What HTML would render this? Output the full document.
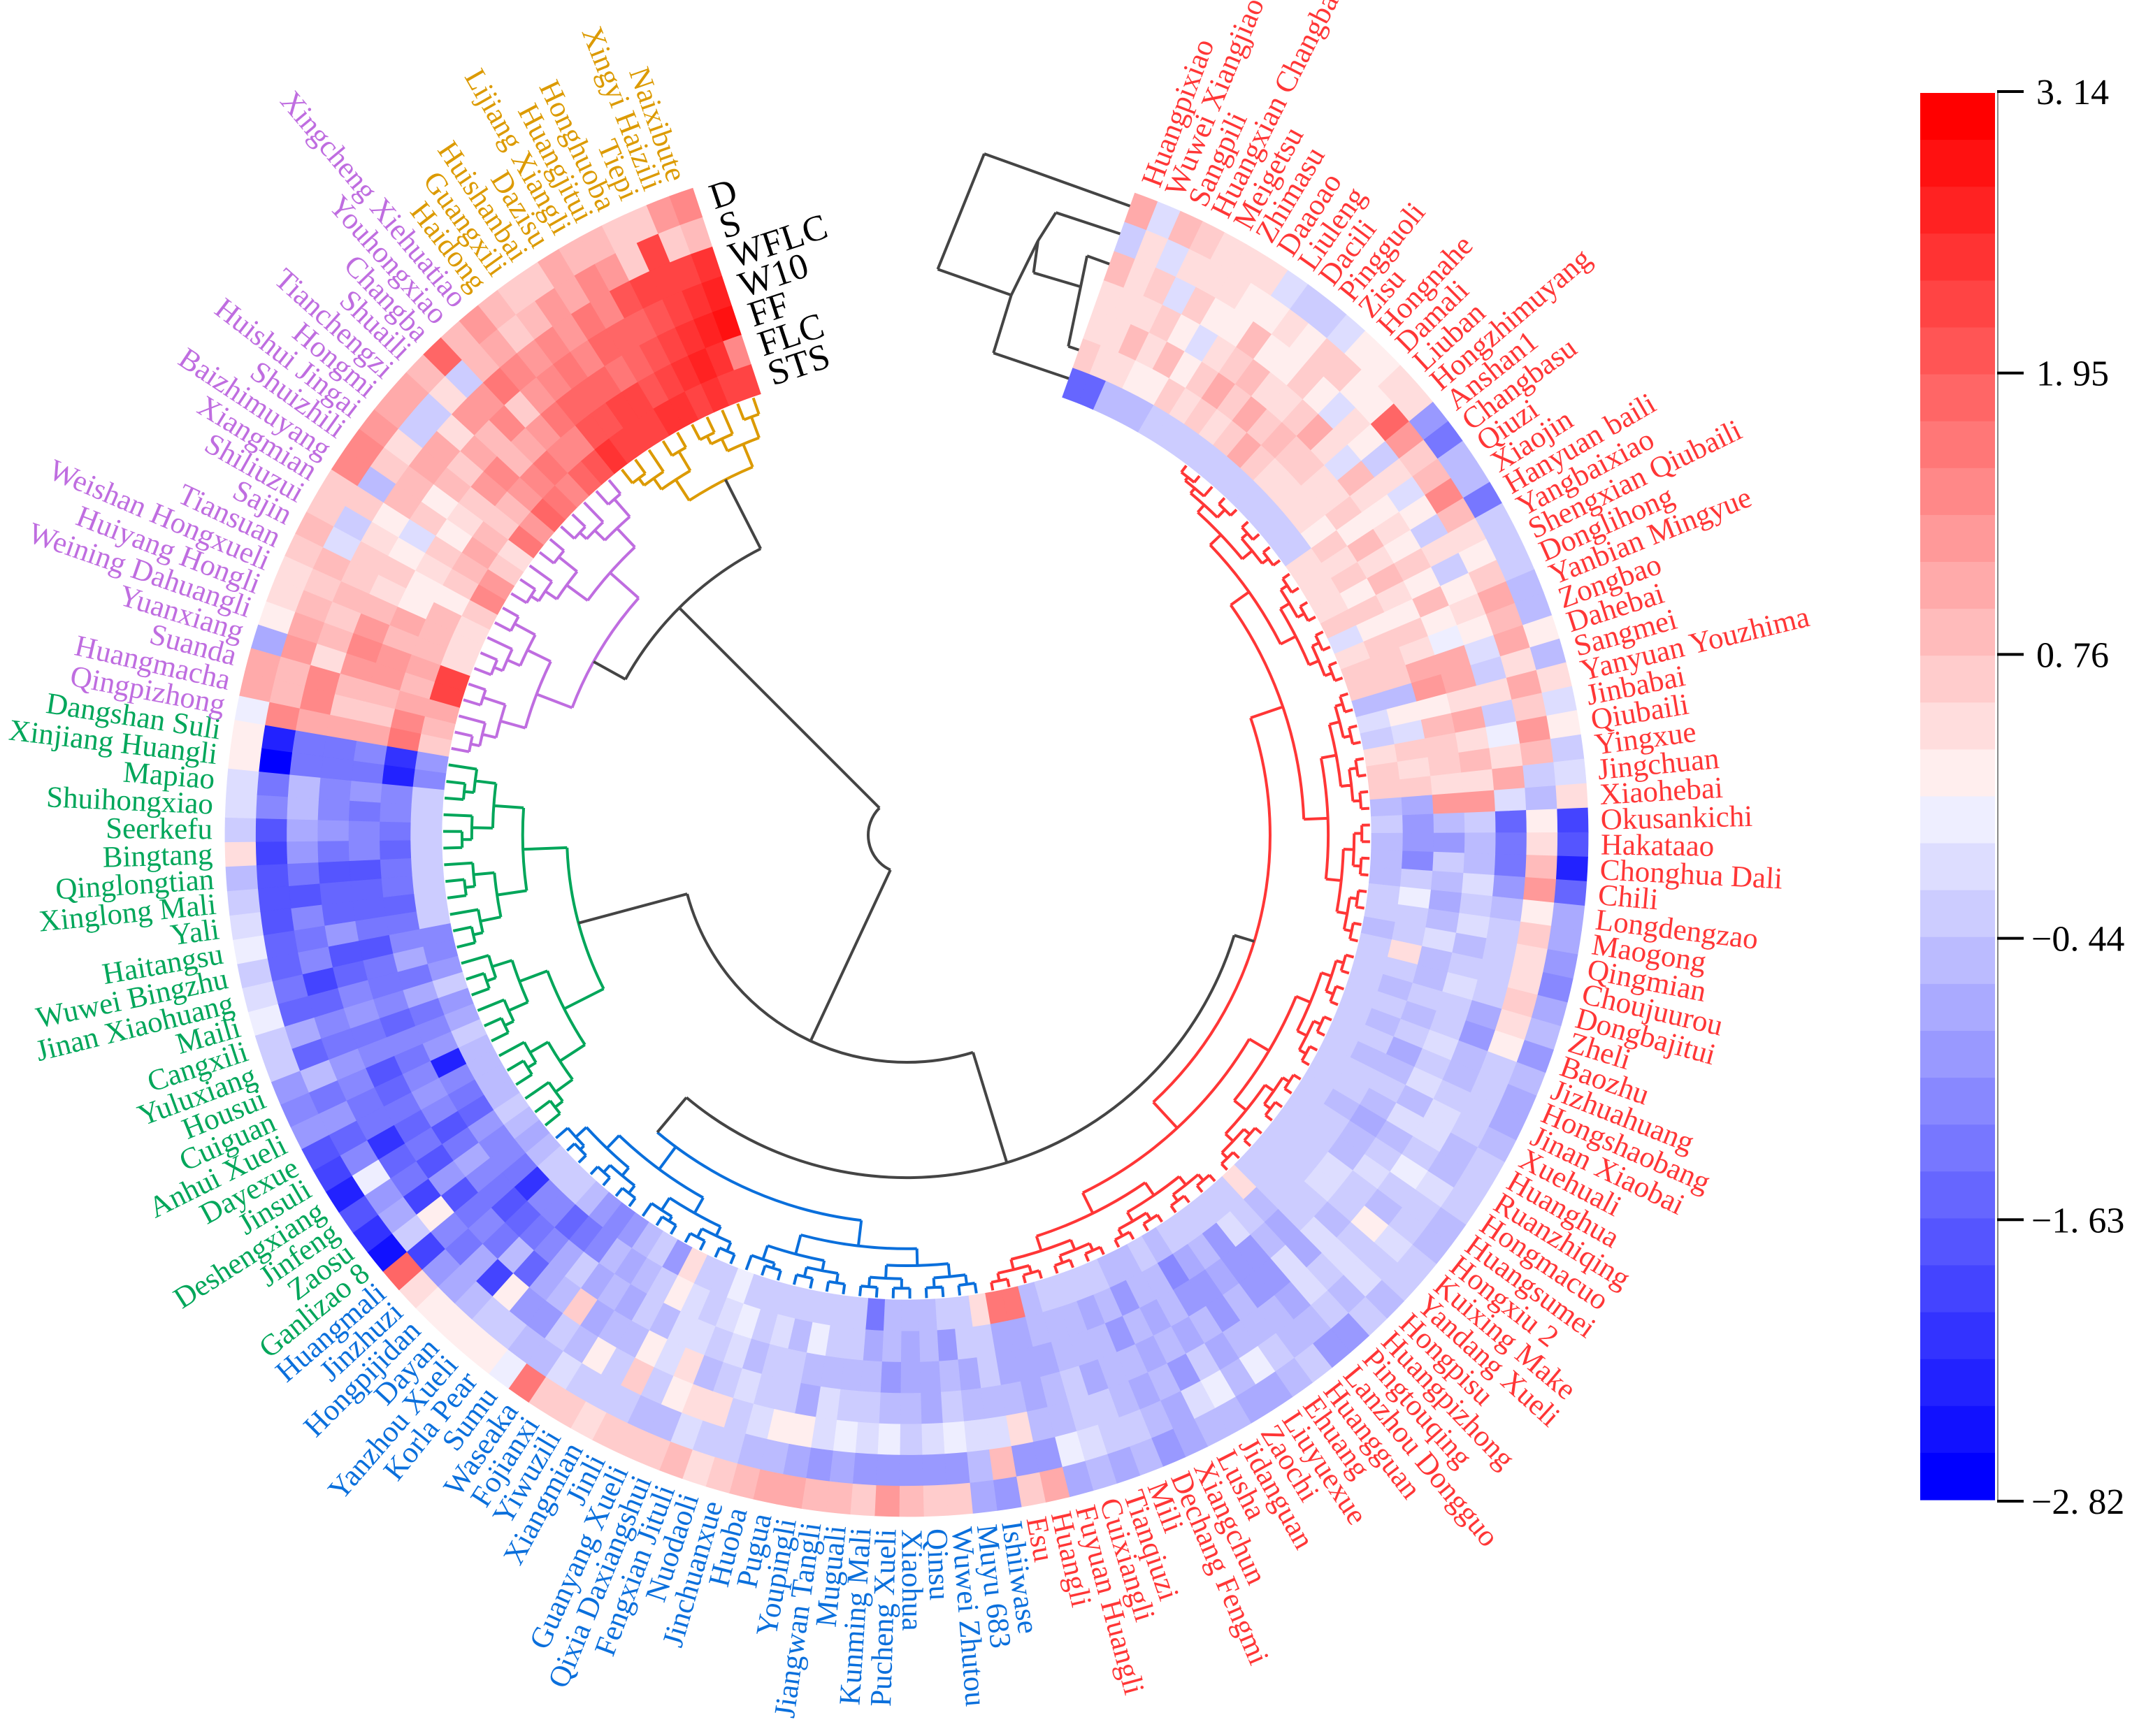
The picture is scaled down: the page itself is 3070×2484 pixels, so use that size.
<!DOCTYPE html>
<html><head><meta charset="utf-8"><style>
html,body{margin:0;padding:0;background:#fff;}
svg{display:block;}
</style></head><body>
<svg id="chart" xmlns="http://www.w3.org/2000/svg" width="3070" height="2484" viewBox="0 0 3070 2484">
<rect width="3070" height="2484" fill="#fff"/>
<g id="dendro"></g>
<g id="heat"></g>
<g id="labels"></g>
<g id="ringlabels"></g>
<g id="cbar"></g>
</svg>
<script>
const ringNames = ["D","S","WFLC","W10","FF","FLC","STS"];
const leafNames = ["Huangpixiao","Wuwei Xiangjiao","Sangpili","Huangxian Changba","Meigetsu","Zhimasu","Daaoao","Liuleng","Dacili","Pingguoli","Zisu","Hongnahe","Damali","Liuban","Hongzhimuyang","Anshan1","Changbasu","Qiuzi","Xiaojin","Hanyuan baili","Yangbaixiao","Shengxian Qiubaili","Donglihong","Yanbian Mingyue","Zongbao","Dahebai","Sangmei","Yanyuan Youzhima","Jinbabai","Qiubaili","Yingxue","Jingchuan","Xiaohebai",
"Okusankichi","Hakataao","Chonghua Dali","Chili","Longdengzao","Maogong","Qingmian","Choujuurou","Dongbajitui","Zheli","Baozhu","Jizhuahuang","Hongshaobang","Jinan Xiaobai","Xuehuali","Huanghua","Ruanzhiqing","Hongmacuo","Huangsumei","Hongxiu 2","Kuixing Make","Yandang Xueli","Hongpisu","Huangpizhong","Pingtouqing","Lanzhou Dongguo","Huangguan","Ehuang","Liuyuexue","Zaochi","Jidanguan","Lusha","Xiangchun","Dechang Fengmi","Mili","Tianqiuzi","Cuixiangli","Fuyuan Huangli","Huangli","Esu",
"Ishiiwase","Muyu 683","Wuwei Zhutou","Qinsu","Xiaohua","Pucheng Xueli","Kunming Mali","Muguali","Jiangwan Tangli","Youpingli","Pugua","Huoba","Jinchuanxue","Nuodaoli","Fengxian Jituli","Qixia Daxiangshui","Guanyang Xueli","Jinli","Xiangmian","Yiwuzili","Fojianxi","Waseaka","Sumu","Korla Pear","Yanzhou Xueli","Dayan","Hongpijidan","Jinzhuzi","Huangmali",
"Ganlizao 8","Zaosu","Jinfeng","Deshengxiang","Jinsuli","Dayexue","Anhui Xueli","Cuiguan","Housui","Yuluxiang","Cangxili","Maili","Jinan Xiaohuang","Wuwei Bingzhu","Haitangsu","Yali","Xinglong Mali","Qinglongtian","Bingtang","Seerkefu","Shuihongxiao","Mapiao","Xinjiang Huangli","Dangshan Suli",
"Qingpizhong","Huangmacha","Suanda","Yuanxiang","Weining Dahuangli","Huiyang Hongli","Weishan Hongxueli","Tiansuan","Sajin","Shiliuzui","Xiangmian","Baizhimuyang","Shuizhili","Huishui Jingai","Hongmi","Tianchengzi","Shuaili","Changba","Youhongxiao","Xingcheng Xiehuatiao",
"Haidong","Guangxili","Huishanbai","Dazisu","Lijiang Xiangli","Huangjitui","Honghuoba","Tiepi","Xingyi Haizili","Naixibute"];
const valD = [1.0,-0.1,0.9,0.6,0.5,0.5,0.4,-0.1,-0.3,-0.3,-0.2,0.2,0.3,0.5,0.5,-0.9,-1.3,-0.6,-0.6,-1.3,-0.4,-0.4,-0.3,-0.5,-0.6,0.3,-0.6,0.5,-0.1,0.2,-0.4,-0.1,0.4,
-2.0,-1.7,-2.4,-1.6,-0.8,-0.7,-0.9,-1.1,-0.7,-0.6,-0.9,-0.5,-0.7,-0.8,-0.5,-0.4,-0.3,-0.4,-0.5,-0.6,-0.3,-0.4,-0.6,-0.4,-0.9,-1.0,-0.3,-0.5,-0.8,-0.8,-0.6,-0.5,-0.7,-0.9,-0.6,-0.8,-0.6,-0.8,1.0,0.6,
-0.9,-0.8,0.7,0.7,0.9,1.2,0.7,0.8,0.9,1.0,1.1,0.8,0.6,0.4,0.8,0.6,0.6,0.6,0.4,0.6,0.7,1.6,0.1,0.2,0.3,0.2,0.3,0.5,1.9,
-2.6,-2.2,-1.8,-2.3,-2.0,-1.7,-1.0,-1.1,-1.0,-0.3,-0.4,0.1,-0.2,-0.3,0.0,-0.2,-0.4,-0.5,0.4,-0.3,-0.2,-0.1,0.3,0.3,
0.0,1.1,1.0,-0.8,0.2,0.5,0.4,0.6,0.9,0.7,0.6,1.5,1.4,1.2,1.1,1.0,0.9,1.9,0.8,1.2,
0.9,0.7,0.6,1.0,0.8,0.8,0.6,0.6,1.3,1.4];
const valS = [-0.3,0.5,-0.1,0.5,0.5,0.5,0.3,0.3,0.4,0.3,0.6,0.6,0.2,0.3,1.8,1.3,0.7,0.9,1.5,0.9,0.5,0.3,0.6,1.0,0.9,1.1,0.5,1.1,0.6,1.3,0.9,-0.3,-0.6,
0.2,0.5,0.8,1.2,0.2,0.6,0.5,0.5,0.6,0.4,0.2,-0.3,-0.4,-0.4,-0.3,-0.6,-0.5,-0.2,-0.3,-0.4,-0.1,-0.3,-0.2,-0.5,-0.3,-0.5,-0.6,-0.4,0.0,-0.6,0.1,-0.2,-0.7,-0.5,-0.3,-0.4,-0.2,0.0,-1.0,-0.9,
0.9,-0.6,-0.9,-1.0,-1.0,-1.0,-0.9,-0.8,-0.9,-0.7,-0.6,-0.5,-0.3,-0.4,-0.2,-0.6,-0.5,-0.4,-0.3,-0.4,-0.2,-0.6,-0.5,-0.3,-0.4,-0.6,-0.8,-0.9,-2.0,
-0.3,-0.8,-1.0,0.0,-1.1,-1.6,-0.9,-1.3,-0.6,-1.5,-0.8,-1.6,-1.3,-1.5,-1.6,-1.7,-1.8,-1.7,-1.9,-1.8,-1.2,-1.3,-2.8,-2.4,
1.5,0.9,0.9,1.3,1.0,0.8,0.7,0.9,-0.2,-0.3,0.7,-0.6,0.6,0.4,-0.4,-0.3,0.5,-0.3,0.8,1.0,
0.7,0.9,1.2,1.1,1.4,1.2,0.6,2.2,0.6,0.8];
const valWFLC = [0.9,0.5,0.7,-0.1,0.6,0.3,0.2,0.8,0.2,0.3,0.6,0.3,-0.1,0.4,0.3,-0.3,0.4,-0.1,0.3,-0.3,0.5,-0.4,0.2,0.4,0.3,-0.2,-0.4,0.4,-0.3,0.0,0.5,1.0,-0.2,
-1.6,-1.4,-1.3,-0.9,-0.6,-0.4,-0.4,-0.3,-0.4,-0.8,-0.9,-0.6,-0.5,-0.4,-0.2,-0.1,-0.3,0.1,-0.3,-0.5,0.2,-0.3,-0.2,-0.4,-0.1,-0.7,-0.5,-0.6,-0.6,-0.8,-0.4,-0.9,-0.5,-0.8,-0.6,-0.4,-0.3,-0.5,-0.5,0.5,
-0.2,-0.2,0.1,-0.1,-0.3,0.1,-0.2,0.0,-0.1,0.2,0.3,-0.2,-0.4,0.4,0.5,0.3,-0.3,0.6,-0.4,0.3,-0.6,-0.4,-0.9,-1.0,0.2,-2.0,-0.8,-1.3,-1.1,
0.3,-2.0,-1.4,-1.5,-2.2,-1.3,-1.3,-1.1,-1.0,-1.3,-1.2,-1.6,-1.9,-1.1,-1.3,-1.1,-1.7,-1.4,-0.9,-0.7,-0.6,-0.6,-1.4,-1.3,
1.0,1.4,1.5,0.5,0.8,0.6,0.8,0.6,0.6,0.5,0.2,0.8,0.9,1.1,1.0,0.5,1.2,1.3,1.6,1.5,
1.2,1.4,1.3,1.6,1.5,2.0,2.2,2.3,2.3,2.4];
const valW10 = [0.5,0.4,0.5,0.6,0.3,-0.1,0.5,0.7,0.9,0.5,0.4,0.6,1.1,0.4,-0.1,0.8,0.5,0.2,0.5,0.3,0.6,0.2,0.9,0.2,0.0,1.0,1.0,0.4,1.0,0.5,0.9,0.5,1.2,
-0.3,-0.6,-0.5,-0.1,-0.4,-0.2,-0.6,-0.3,-0.1,-0.3,-0.3,-0.2,-0.3,-0.1,-0.5,-0.2,-0.6,-0.4,-0.1,-0.3,-0.4,-0.5,-0.2,-0.7,-0.2,-0.9,-1.0,-0.6,-0.9,-0.6,-0.8,-0.5,-0.8,-0.6,-0.5,-0.7,-0.4,-0.6,-0.7,-0.5,
-0.5,-0.6,-0.3,-0.8,-0.5,-0.6,-0.4,-0.4,-0.2,-0.8,-0.4,-0.4,-0.1,-0.3,-0.5,0.4,-0.2,0.2,-0.6,-0.5,-0.7,0.7,-0.6,-0.7,-1.6,-0.6,-1.3,-1.1,-1.3,
-1.8,-0.9,-1.8,-1.4,-1.5,-1.4,-1.6,-1.7,-1.1,-1.4,-1.0,-1.2,-1.6,-1.8,-1.0,-1.5,-1.6,-1.8,-1.3,-1.0,-1.1,-1.1,-1.4,-1.4,
1.0,0.6,0.8,1.2,1.5,1.3,0.9,0.4,0.7,0.2,-0.1,0.7,0.2,0.9,0.7,1.0,0.8,1.4,0.6,1.2,
1.5,1.6,1.5,1.8,1.9,1.8,2.1,2.3,2.4,2.6];
const valFF = [0.5,0.5,0.9,0.5,0.9,0.3,0.6,1.0,0.6,1.0,0.7,0.9,0.6,0.7,0.5,0.5,0.6,0.3,0.8,0.5,0.9,0.4,0.3,0.7,0.5,1.0,1.3,0.2,0.8,0.6,0.7,0.5,1.2,
-0.6,-0.9,-0.3,-0.5,-0.7,-0.5,-0.2,-0.5,-0.6,-0.4,-0.6,-0.3,-0.7,-0.6,-0.4,-0.5,-0.8,-0.6,-0.5,-0.2,-0.2,-0.4,-0.3,-0.7,-0.6,-0.9,-1.0,-0.7,-1.0,-1.0,-0.6,-0.8,-0.6,-0.9,-0.6,-0.5,-0.6,-0.8,-0.7,-0.7,
-0.4,-0.7,-0.5,-0.7,-0.7,-0.9,-0.6,-0.5,-0.6,-0.6,-0.3,-0.4,-0.6,-0.2,-0.4,-0.1,-0.2,-0.5,-0.4,-0.7,-0.6,-0.8,-0.3,-0.8,-1.2,-1.4,-1.6,-1.7,-1.3,
-1.1,-0.7,-1.3,-1.7,-1.2,-1.0,-1.2,-1.4,-1.2,-1.6,-1.1,-1.3,-1.3,-1.8,-1.4,-1.5,-1.6,-1.7,-1.2,-1.2,-1.3,-0.9,-1.4,-1.1,
1.1,0.7,0.9,1.2,1.3,0.9,1.0,0.2,0.3,0.4,0.6,0.3,0.5,0.7,1.2,1.5,0.9,1.0,1.2,1.7,
1.9,1.9,1.8,1.7,1.9,2.1,2.3,2.5,2.6,2.9];
const valFLC = [0.6,0.5,0.5,0.3,0.2,0.6,0.5,0.6,0.5,0.6,1.1,0.6,0.5,0.5,0.4,0.4,0.3,0.6,0.5,0.6,0.3,0.7,0.2,0.6,0.6,0.6,-0.6,0.3,-0.2,0.6,0.4,0.6,-0.8,
-0.9,-1.0,-1.1,-0.3,0.0,-0.4,-0.3,0.4,-0.3,-0.5,-0.4,-0.5,-0.4,-0.6,-0.3,-0.4,-0.5,-0.3,-0.4,-0.4,-0.4,-0.3,-0.3,-0.5,-0.4,-0.2,-0.9,-0.6,-0.8,-1.1,-0.5,-0.5,-0.9,-0.5,-0.7,-0.6,-0.5,-0.6,-0.7,-0.7,
-0.4,-0.4,-0.9,-0.6,-0.7,-0.6,-0.7,-0.3,-0.4,0.0,-0.5,-0.2,-0.4,0.0,-0.2,-0.4,-0.1,0.3,-0.3,-0.5,-0.8,-0.6,-1.2,-1.4,-1.6,-1.2,-1.2,-2.1,-1.3,
-1.2,-1.1,-1.0,-1.6,-1.3,-1.1,-2.3,-0.9,-1.2,-1.4,-0.7,-1.4,-0.8,-1.2,-1.3,-1.6,-1.3,-1.4,-1.6,-1.3,-1.2,-1.2,-2.3,-2.2,
1.6,1.5,1.0,0.9,1.1,0.9,0.8,0.8,0.2,0.6,0.9,1.0,0.8,0.6,0.8,1.3,1.5,1.7,1.4,1.4,
2.0,2.1,2.2,2.3,2.0,2.2,2.4,2.6,2.4,1.5];
const valSTS = [-1.5,-1.5,-0.5,-0.5,-0.5,-0.4,-0.4,-0.4,-0.4,-0.4,-0.4,-0.4,-0.4,-0.3,-0.4,-0.3,-0.3,0.4,0.5,0.4,0.5,0.6,-0.1,0.5,0.6,0.6,-0.5,-0.2,-0.4,0.5,0.6,0.6,-0.5,
-0.4,-0.5,-0.5,-0.5,-0.4,-0.4,-0.5,-0.4,-0.4,-0.4,-0.4,-0.3,-0.4,-0.4,-0.4,-0.4,-0.3,-0.3,-0.3,-0.3,-0.3,-0.3,-0.3,0.4,-0.4,-0.4,-0.4,-0.4,-0.4,-0.5,-0.3,-0.6,-0.5,-0.4,-0.4,-0.4,-0.4,-0.5,1.6,1.6,
0.5,-0.4,-0.4,-0.5,-0.5,-0.5,-1.3,-0.4,-0.4,-0.3,-0.4,-0.4,-0.3,-0.3,0.0,-0.4,-0.4,0.5,-1.0,-0.4,-0.6,-0.9,-1.2,-0.9,-0.5,-0.4,-0.4,-0.4,-0.5,
-0.7,-0.5,-0.4,-0.5,-0.5,-0.6,-0.5,-0.4,-0.8,-0.9,-0.4,-0.9,-1.2,-1.2,-0.3,-0.4,-0.4,-0.4,-0.4,-0.4,-0.4,-0.4,-1.2,-0.9,
0.6,0.8,1.0,2.3,2.2,0.5,0.5,0.4,0.6,1.5,1.3,0.6,0.5,1.6,1.2,1.8,1.6,1.5,1.9,2.1,
2.4,2.3,2.2,2.3,2.4,2.5,2.2,2.4,2.3,2.2];
const cbTicks = [3.14,1.95,0.76,-0.44,-1.63,-2.82];
const cbTickLabels = ["3. 14","1. 95","0. 76","\u22120. 44","\u22121. 63","\u22122. 82"];
const vmin = -2.82, vmax = 3.14;

const NS = "http://www.w3.org/2000/svg";
const cx = 1297, cy = 1195, Rin = 665, Rout = 975, Rleaf = 663;
const A0 = 20.6, dA = 2.065;
const ringVals = [valD, valS, valWFLC, valW10, valFF, valFLC, valSTS];
const ringW = (Rout - Rin) / ringNames.length;
function ang(i){ return A0 + i * dA; }
function P(a, r){ const t = a * Math.PI / 180; return [cx + r * Math.sin(t), cy - r * Math.cos(t)]; }
function f(v){ return v.toFixed(1); }
function levelColor(q){
  if (q >= 15) { const c = (29 - q) * 17; return "rgb(255," + c + "," + c + ")"; }
  const c = q * 17; return "rgb(" + c + "," + c + ",255)";
}
function color(v){
  let q = Math.floor((v - vmin) / (vmax - vmin) * 30);
  q = Math.max(0, Math.min(29, q));
  return levelColor(q);
}
function mk(tag, parent){ const e = document.createElementNS(NS, tag); parent.appendChild(e); return e; }

/* ---------- dendrogram ---------- */
const dendro = document.getElementById("dendro");
function arcD(a1, a2, r){
  if (a2 < a1) { const t = a1; a1 = a2; a2 = t; }
  const p1 = P(a1, r), p2 = P(a2, r);
  return "M" + f(p1[0]) + "," + f(p1[1]) + "A" + r + "," + r + " 0 " + (a2 - a1 > 180 ? 1 : 0) + " 1 " + f(p2[0]) + "," + f(p2[1]);
}
function radD(a, r1, r2){
  const p1 = P(a, r1), p2 = P(a, r2);
  return "M" + f(p1[0]) + "," + f(p1[1]) + "L" + f(p2[0]) + "," + f(p2[1]);
}
function build(lo, hi, N, Rroot, acc, link){
  const n = hi - lo + 1;
  if (n === 1) return { a: ang(lo), r: Rleaf };
  const mid = Math.floor((lo + hi) / 2);
  const L = build(lo, mid, N, Rroot, acc), R = build(mid + 1, hi, N, Rroot, acc);
  const r = Rleaf - (Rleaf - Rroot) * Math.pow((n - 1) / (N - 1), 0.6);
  acc.d += radD(L.a, r, L.r) + radD(R.a, r, R.r);
  let a1 = L.a, a2 = R.a;
  if (link !== undefined) { a1 = Math.min(a1, link); a2 = Math.max(a2, link); }
  acc.d += arcD(a1, a2, r);
  return { a: (L.a + R.a) / 2, r: r };
}
const clusters = [
  { name: "red", lo: 8, hi: 72, color: "#ff3636", root: 520, link: 107 },
  { name: "blue", lo: 73, hi: 101, color: "#0a6fdc", root: 555, link: 220 },
  { name: "green", lo: 102, hi: 125, color: "#00a65a", root: 486, link: 255 },
  { name: "purple", lo: 126, hi: 145, color: "#bf6de0", root: 512, link: 299 },
  { name: "orange", lo: 146, hi: 155, color: "#dc9a00", root: 571, link: 333 }
];
clusters.forEach(function(c){
  const acc = { d: "" };
  build(c.lo, c.hi, c.hi - c.lo + 1, c.root, acc, c.link);
  const p = mk("path", dendro);
  
  
  p.setAttribute("d", acc.d);
  p.setAttribute("fill", "none");
  p.setAttribute("stroke", c.color);
  p.setAttribute("stroke-width", "4");
});
let sk = "";
sk += arcD(205, 315, 55) + radD(315, 55, 460) + radD(205, 55, 325);
sk += arcD(299, 333, 460) + radD(333, 460, 571) + radD(299, 460, 512);
sk += arcD(163, 255, 325) + radD(255, 325, 486) + radD(163, 325, 490);
sk += arcD(107, 220, 490) + radD(220, 490, 555) + radD(107, 490, 520);
const segs = [[1408,220,1631,300],[1408,220,1341.5,385.2],[1341.5,385.2,1446.7,422.2],[1446.7,422.2,1421.2,505.1],[1421.2,505.1,1560,552],[1446.7,422.2,1485,344.4],[1485,344.4,1510.5,304.2],[1510.5,304.2,1625,342],[1485,344.4,1478.6,390.3],[1478.6,390.3,1545,410],[1555.1,366.1,1610,386],[1555.1,366.1,1528.3,495.6],[1528.3,495.6,1565,508]];
segs.forEach(function(s){ sk += "M" + s[0] + "," + s[1] + "L" + s[2] + "," + s[3]; });
const skel = mk("path", dendro);


skel.setAttribute("d", sk);
skel.setAttribute("fill", "none");
skel.setAttribute("stroke", "#444");
skel.setAttribute("stroke-width", "4");

/* ---------- heatmap ---------- */
const heat = document.getElementById("heat");
ringVals.forEach(function(vals, ri){
  const ro = Rout - ri * ringW, rin = ro - ringW;
  const g = mk("g", heat);
  
  
  for (let i = 0; i < vals.length; i++) {
    const a1 = ang(i) - dA / 2, a2 = ang(i) + dA / 2;
    const p1 = P(a1, ro), p2 = P(a2, ro), p3 = P(a2, rin), p4 = P(a1, rin);
    const d = "M" + f(p1[0]) + "," + f(p1[1]) + "A" + f(ro) + "," + f(ro) + " 0 0 1 " + f(p2[0]) + "," + f(p2[1]) +
      "L" + f(p3[0]) + "," + f(p3[1]) + "A" + f(rin) + "," + f(rin) + " 0 0 0 " + f(p4[0]) + "," + f(p4[1]) + "Z";
    const c = color(vals[i]);
    const cell = mk("path", g);
    
    
    cell.setAttribute("d", d);
    cell.setAttribute("fill", c);
    cell.setAttribute("stroke", c);
    cell.setAttribute("stroke-width", "0.8");
  }
});

/* ---------- leaf labels ---------- */
const labels = document.getElementById("labels");
function leafColor(i){
  for (const c of clusters) { if (i >= c.lo && i <= c.hi) return c.color; }
  return "#ff3636";
}
for (let i = 0; i < leafNames.length; i++) {
  const a = ang(i), p = P(a, 993);
  const t = mk("text", labels);
  
  
  const flip = a >= 180;
  t.setAttribute("transform", "translate(" + f(p[0]) + "," + f(p[1]) + ") rotate(" + f(flip ? a + 90 : a - 90) + ")");
  t.setAttribute("text-anchor", flip ? "end" : "start");
  t.setAttribute("dominant-baseline", "central");
  t.setAttribute("font-family", "Liberation Serif, serif");
  t.setAttribute("font-size", "43");
  t.setAttribute("fill", leafColor(i));
  t.textContent = leafNames[i];
}

/* ---------- ring labels ---------- */
const rl = document.getElementById("ringlabels");
const edgeA = ang(leafNames.length - 1) + dA / 2;
const tr = edgeA * Math.PI / 180;
ringNames.forEach(function(nm, ri){
  const rm = Rout - (ri + 0.5) * ringW;
  const p = P(edgeA, rm);
  const x = p[0] + Math.cos(tr) * 20, y = p[1] + Math.sin(tr) * 20;
  const t = mk("text", rl);
  
  
  t.setAttribute("transform", "translate(" + f(x) + "," + f(y) + ") rotate(" + f(edgeA - 360) + ")");
  t.setAttribute("dominant-baseline", "central");
  t.setAttribute("font-family", "Liberation Serif, serif");
  t.setAttribute("font-size", "52");
  t.setAttribute("fill", "#000");
  t.textContent = nm;
});

/* ---------- colorbar ---------- */
const cb = document.getElementById("cbar");
const cbX = 2747, cbW = 107, cbTop = 133, cbBot = 2146;
const bandH = (cbBot - cbTop) / 30;
for (let k = 0; k < 30; k++) {
  const r = mk("rect", cb);
  
  
  r.setAttribute("x", cbX);
  r.setAttribute("y", f(cbTop + k * bandH));
  r.setAttribute("width", cbW);
  r.setAttribute("height", f(bandH + 0.6));
  r.setAttribute("fill", levelColor(29 - k));
}
function cbY(v){ return 131 + (vmax - v) / (vmax - vmin) * (2148 - 131); }
const ax = mk("line", cb);


ax.setAttribute("x1", 2858); ax.setAttribute("x2", 2858);
ax.setAttribute("y1", 131); ax.setAttribute("y2", 2148);
ax.setAttribute("stroke", "#888"); ax.setAttribute("stroke-width", "2");
cbTicks.forEach(function(v, i){
  const y = cbY(v);
  const tk = mk("line", cb);
  
  
  tk.setAttribute("x1", 2857); tk.setAttribute("x2", 2895);
  tk.setAttribute("y1", f(y)); tk.setAttribute("y2", f(y));
  tk.setAttribute("stroke", "#000"); tk.setAttribute("stroke-width", "4");
  const t = mk("text", cb);
  
  
  t.setAttribute("x", v < 0 ? 2906 : 2913);
  t.setAttribute("y", f(y + 18));
  t.setAttribute("font-family", "Liberation Serif, serif");
  t.setAttribute("font-size", "52");
  t.setAttribute("fill", "#000");
  t.textContent = cbTickLabels[i];
});
</script>
</body></html>
